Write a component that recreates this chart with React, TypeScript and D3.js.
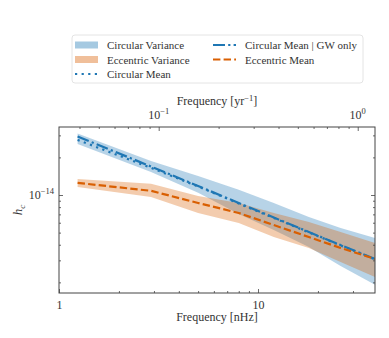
import { useEffect, useRef } from "react";
import * as d3 from "d3";

// frequencies in nHz
const freqs = [1.24, 2.9, 5, 8, 12, 18, 26, 38.7];
const circVarLo = [2.56e-14, 1.53e-14, 1.04e-14, 7.05e-15, 5.25e-15, 3.84e-15, 2.7e-15, 1.91e-15];
const circVarHi = [3.1e-14, 1.87e-14, 1.42e-14, 1.1e-14, 8.63e-15, 6.67e-15, 5.45e-15, 4.53e-15];
const eccVarLo = [1.16e-14, 9.64e-15, 7.18e-15, 5.97e-15, 4.61e-15, 3.77e-15, 2.91e-15, 2.21e-15];
const eccVarHi = [1.34e-14, 1.23e-14, 9.82e-15, 8.63e-15, 7.18e-15, 6.08e-15, 5.06e-15, 4.13e-15];
const circMean = [2.76e-14, 1.65e-14, 1.17e-14, 8.55e-15, 6.55e-15, 5.02e-15, 3.95e-15, 3.06e-15];
const circGW = [2.94e-14, 1.69e-14, 1.18e-14, 8.63e-15, 6.61e-15, 5.06e-15, 3.98e-15, 3.08e-15];
const eccMean = [1.25e-14, 1.08e-14, 8.63e-15, 7.18e-15, 5.75e-15, 4.61e-15, 3.77e-15, 3.08e-15];

const xMajor = [1, 10];
const xMinor = [2, 3, 4, 5, 6, 7, 8, 9, 20, 30];
const topMajor = [0.1, 1];
const topMinor = [0.04, 0.05, 0.06, 0.07, 0.08, 0.09, 0.2, 0.3, 0.4, 0.5, 0.6, 0.7, 0.8, 0.9];
const yMajor = [1e-14];
const yMinor = [2e-15, 3e-15, 4e-15, 5e-15, 6e-15, 7e-15, 8e-15, 9e-15, 2e-14, 3e-14];

const NHZ_PER_YR = 31.69;
const BLUE = "#1f77b4";
const ORANGE = "#d95f02";
const FONT = "'Liberation Serif', 'Times New Roman', serif";
const INK = "#333";

const App = () => {
  const svgRef = useRef(null);

  useEffect(() => {
    const w = 389;
    const h = 338;
    const m = { left: 59, right: 375, top: 127, bottom: 293 };

    const svg = d3.select(svgRef.current).attr("width", w).attr("height", h);
    svg.selectAll("*").remove();

    const x = d3.scaleLog().domain([1, 38.7]).range([m.left, m.right]);
    const xTop = d3
      .scaleLog()
      .domain([1 / NHZ_PER_YR, 38.7 / NHZ_PER_YR])
      .range([m.left, m.right]);
    const y = d3.scaleLog().domain([1.644e-15, 3.5e-14]).range([m.bottom, m.top]);

    svg.append("clipPath").attr("id", "plotclip")
      .append("rect")
      .attr("x", m.left).attr("y", m.top)
      .attr("width", m.right - m.left).attr("height", m.bottom - m.top);

    const plot = svg.append("g").attr("clip-path", "url(#plotclip)");

    const band = (lo, hi) =>
      d3.area()
        .x((d, i) => x(freqs[i]))
        .y0((d, i) => y(lo[i]))
        .y1((d, i) => y(hi[i]))(freqs);

    const line = (vals) =>
      d3.line()
        .x((d, i) => x(freqs[i]))
        .y((d) => y(d))(vals);

    plot.append("path").attr("d", band(circVarLo, circVarHi))
      .attr("fill", BLUE).attr("fill-opacity", 0.32);
    plot.append("path").attr("d", band(eccVarLo, eccVarHi))
      .attr("fill", ORANGE).attr("fill-opacity", 0.32);

    plot.append("path").attr("d", line(circMean))
      .attr("fill", "none").attr("stroke", BLUE).attr("stroke-width", 2.2)
      .attr("stroke-dasharray", "2.2,4.4");
    plot.append("path").attr("d", line(circGW))
      .attr("fill", "none").attr("stroke", BLUE).attr("stroke-width", 2.2)
      .attr("stroke-dasharray", "12,3.2,2.2,3.2");
    plot.append("path").attr("d", line(eccMean))
      .attr("fill", "none").attr("stroke", ORANGE).attr("stroke-width", 2.2)
      .attr("stroke-dasharray", "7.4,3.2");

    // axes, ticks pointing inward
    const styleAxis = (g) => {
      g.select(".domain").remove();
      g.selectAll("line").attr("stroke", "#444").attr("stroke-width", 0.8);
      g.selectAll("text").attr("font-family", FONT).attr("font-size", 12).attr("fill", INK);
    };

    svg.append("g").attr("transform", `translate(0,${m.bottom})`)
      .call(d3.axisBottom(x).tickValues(xMajor).tickSize(-4).tickPadding(7).tickFormat(d3.format("d")))
      .call(styleAxis);
    svg.append("g").attr("transform", `translate(0,${m.bottom})`)
      .call(d3.axisBottom(x).tickValues(xMinor).tickSize(-2).tickFormat(() => ""))
      .call(styleAxis);

    svg.append("g").attr("transform", `translate(0,${m.top})`)
      .call(d3.axisTop(xTop).tickValues(topMajor).tickSize(-4).tickFormat(() => ""))
      .call(styleAxis);
    svg.append("g").attr("transform", `translate(0,${m.top})`)
      .call(d3.axisTop(xTop).tickValues(topMinor).tickSize(-2).tickFormat(() => ""))
      .call(styleAxis);

    [m.left, m.right].forEach((px, k) => {
      const mk = k === 0 ? d3.axisLeft : d3.axisRight;
      svg.append("g").attr("transform", `translate(${px},0)`)
        .call(mk(y).tickValues(yMajor).tickSize(-4).tickFormat(() => ""))
        .call(styleAxis);
      svg.append("g").attr("transform", `translate(${px},0)`)
        .call(mk(y).tickValues(yMinor).tickSize(-2).tickFormat(() => ""))
        .call(styleAxis);
    });

    svg.append("rect")
      .attr("x", m.left).attr("y", m.top)
      .attr("width", m.right - m.left).attr("height", m.bottom - m.top)
      .attr("fill", "none").attr("stroke", "#444").attr("stroke-width", 1);

    // power-of-ten labels with superscripts
    const pow10 = (px, py, exp, anchor) => {
      const t = svg.append("text")
        .attr("x", px).attr("y", py)
        .attr("text-anchor", anchor)
        .attr("font-family", FONT).attr("font-size", 12).attr("fill", INK);
      t.append("tspan").text("10");
      t.append("tspan").attr("dy", -5).attr("font-size", 8.5).text(exp);
    };
    topMajor.forEach((v) => pow10(xTop(v), 119, v < 1 ? "\u22121" : "0", "middle"));
    yMajor.forEach((v) => pow10(54, y(v) + 4, "\u221214", "end"));

    // axis titles
    svg.append("text")
      .attr("x", (m.left + m.right) / 2).attr("y", 321)
      .attr("text-anchor", "middle")
      .attr("font-family", FONT).attr("font-size", 12).attr("fill", INK)
      .text("Frequency [nHz]");

    const topTitle = svg.append("text")
      .attr("x", (m.left + m.right) / 2).attr("y", 105)
      .attr("text-anchor", "middle")
      .attr("font-family", FONT).attr("font-size", 12).attr("fill", INK);
    topTitle.append("tspan").text("Frequency [yr");
    topTitle.append("tspan").attr("dy", -4.5).attr("font-size", 8.5).text("\u22121");
    topTitle.append("tspan").attr("dy", 4.5).text("]");

    const yTitle = svg.append("text")
      .attr("transform", `translate(22,${(m.top + m.bottom) / 2}) rotate(-90)`)
      .attr("text-anchor", "middle")
      .attr("font-family", FONT).attr("font-size", 13).attr("font-style", "italic").attr("fill", INK);
    yTitle.append("tspan").text("h");
    yTitle.append("tspan").attr("dy", 3).attr("font-size", 9).text("c");

    // legend
    const lg = svg.append("g");
    lg.append("rect")
      .attr("x", 72).attr("y", 35).attr("width", 291).attr("height", 48)
      .attr("rx", 3).attr("fill", "white").attr("fill-opacity", 0.85)
      .attr("stroke", "#dddddd").attr("stroke-width", 0.8);

    const items = [
      { col: 0, row: 0, label: "Circular Variance", kind: "patch", color: BLUE },
      { col: 0, row: 1, label: "Eccentric Variance", kind: "patch", color: ORANGE },
      { col: 0, row: 2, label: "Circular Mean", kind: "line", color: BLUE, dash: "2.2,4.4" },
      { col: 1, row: 0, label: "Circular Mean | GW only", kind: "line", color: BLUE, dash: "12,3.2,2.2,3.2" },
      { col: 1, row: 1, label: "Eccentric Mean", kind: "line", color: ORANGE, dash: "7.4,3.2" },
    ];
    const colX = [75, 213];
    const rowY = [45, 59.5, 74];
    items.forEach((it) => {
      const x0 = colX[it.col];
      const yy = rowY[it.row];
      if (it.kind === "patch") {
        lg.append("rect").attr("x", x0).attr("y", yy - 3.5).attr("width", 23).attr("height", 7)
          .attr("fill", it.color).attr("fill-opacity", 0.4);
      } else {
        lg.append("line").attr("x1", x0).attr("x2", x0 + 23).attr("y1", yy).attr("y2", yy)
          .attr("stroke", it.color).attr("stroke-width", 2.2).attr("stroke-dasharray", it.dash);
      }
      lg.append("text").attr("x", x0 + 32).attr("y", yy + 4)
        .attr("font-family", FONT).attr("font-size", 11).attr("fill", INK)
        .text(it.label);
    });
  }, []);

  return <svg ref={svgRef} style={{ position: "absolute", left: 0, top: 0, display: "block" }}></svg>;
};

export default App;
